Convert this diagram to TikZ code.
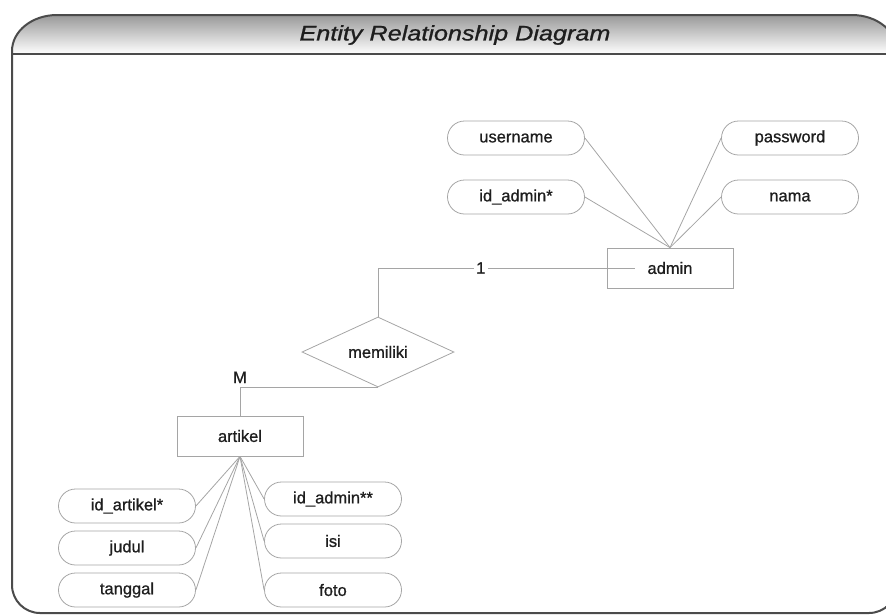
\documentclass[tikz,border=0pt]{standalone}
\usepackage{tikz}
\usepackage{fontspec}
\setmainfont{Liberation Sans}
\newfontfamily\erfont{Liberation Sans}[FakeBold=0.9]
\definecolor{ln}{RGB}{165, 165, 165}
\definecolor{fr}{RGB}{75, 75, 75}
\definecolor{tx}{RGB}{30, 30, 30}
\usetikzlibrary{shapes.geometric}

\begin{document}
\begin{tikzpicture}
			[x=1pt,y=-1pt,every node/.style={inner sep=0pt,text=tx,font=\erfont\fontsize{16.5}{18}\selectfont},
			attr/.style={rectangle, rounded corners=17pt, minimum width=137pt, minimum height=34pt, line width=0.8pt, draw=ln},
			ent/.style={rectangle, minimum width=126pt, minimum height=40pt, line width=0.8pt, draw=ln},
			rel/.style={diamond, aspect=2.17, minimum width=152pt, minimum height=70pt, line width=0.8pt, draw=ln},
			link/.style={line width=0.8pt, color=ln}]
			\useasboundingbox (0,0) rectangle (886,614);
			\shade [top color=black!40, bottom color=white] (12,54) -- (12,51) arc[start angle=180, end angle=270, x radius=45, y radius=36] -- (852,15) arc[start angle=270, end angle=360, x radius=45, y radius=36] -- (897,54) -- cycle;
			\draw [line width=2pt, color=fr] (12,54) -- (12,51) arc[start angle=180, end angle=270, x radius=45, y radius=36] -- (852,15) arc[start angle=270, end angle=360, x radius=45, y radius=36] -- (897,585) arc[start angle=0, end angle=90, radius=28] -- (40,613) arc[start angle=90, end angle=180, radius=28] -- cycle;
			\draw [line width=1.6pt, color=fr] (12,54) -- (897,54);
			\node (0) at (455,35) {\scalebox{1.2}[1]{\fontsize{21}{24}\selectfont\itshape Entity Relationship Diagram}};
			\node (1) [ent] at (670,268) {admin};
			\node (2) [attr] at (516,138) {username};
			\node (3) [attr] at (790,138) {password};
			\node (4) [attr] at (516,197) {id\_admin*};
			\node (5) [attr] at (790,197) {nama};
			\node (6) [rel] at (378,352) {memiliki};
			\node (7) [ent] at (240,436) {artikel};
			\node (8) [attr] at (127,506) {id\_artikel*};
			\node (9) [attr] at (127,548) {judul};
			\node (10) [attr] at (127,590) {tanggal};
			\node (11) [attr] at (333,499) {id\_admin**};
			\node (12) [attr] at (333,541) {isi};
			\node (13) [attr] at (333,590) {foto};
			\coordinate (1a) at ([xshift=-35pt]1.center);
			\draw [link] (2.east) to (1.north);
			\draw [link] (4.east) to (1.north);
			\draw [link] (3.west) to (1.north);
			\draw [link] (5.west) to (1.north);
			\draw [link] (6.north) |- node[pos=0.7, fill=white, inner xsep=2.5pt] {1} (1a);
			\draw [link] (6.south) -| node[pos=0.5, above=4pt] {M} (7.north);
			\draw [link] (7.south) to (8.east);
			\draw [link] (7.south) to (9.east);
			\draw [link] (7.south) to (10.east);
			\draw [link] (7.south) to (11.west);
			\draw [link] (7.south) to (12.west);
			\draw [link] (7.south) to (13.west);
		\end{tikzpicture}
\end{document}
